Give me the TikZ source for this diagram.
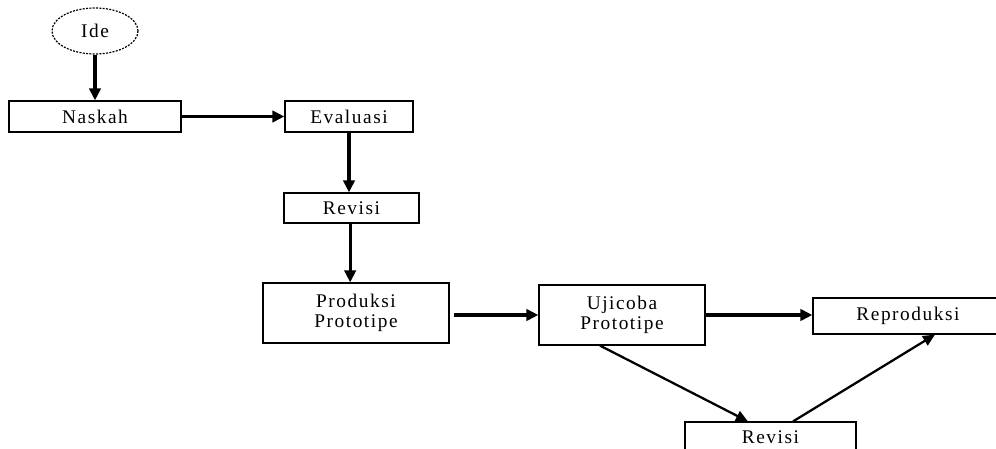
\documentclass[tikz,border=0pt]{standalone}
\usepackage{fontspec}
\setmainfont{Liberation Serif}[LetterSpace=8]
\usetikzlibrary{arrows.meta}
\usetikzlibrary{shapes.geometric}
\tikzset{
    stepbox/.style={draw, line width=0.9pt, inner sep=1pt, align=center, font=\fontsize{14.5}{14.5}\selectfont},
    flow/.style={-{Triangle[length=9pt, width=8.5pt]}, line width=2.3pt},
    slant/.style={-{Triangle[length=9pt, width=8pt]}, line width=1.7pt}
}
\begin{document}
\begin{tikzpicture}[x=0.75pt, y=-0.75pt]
	% page frame
	\useasboundingbox (0,0) rectangle (996,449);
	% start
	\node[stepbox, ellipse, dashed, dash pattern=on 1.5pt off 1pt, minimum width=64.5pt, minimum height=34.5pt] (ide) at (95,31) {Ide};
	% first row
	\node[stepbox, minimum width=129pt, minimum height=23.25pt] (naskah) at (95,116.5) {Naskah};
	\node[stepbox, minimum width=96pt, minimum height=23.25pt] (evaluasi) at (349,116.5) {Evaluasi};
	% middle column
	\node[stepbox, minimum width=101.25pt, minimum height=22.5pt] (revisi) at (351.5,208) {Revisi};
	\node[stepbox, minimum width=139.5pt, minimum height=45pt] (produksi) at (356,313) {Produksi\\Prototipe};
	% last row
	\node[stepbox, minimum width=124.5pt, minimum height=45pt] (ujicoba) at (622,315) {Ujicoba\\Prototipe};
	\node[stepbox, minimum width=142.5pt, minimum height=27pt] (reproduksi) at (908,316) {Reproduksi};
	\node[stepbox, minimum width=128.25pt, minimum height=23.25pt] (revisib) at (770.5,437.5) {Revisi};

	% arrows
	\draw[flow] (ide) -- (naskah);
	\draw[flow] (naskah) -- (evaluasi);
	\draw[flow] (evaluasi.south) -- (evaluasi.south |- revisi.north);
	\draw[flow] ([xshift=-1pt]revisi.south) -- ([xshift=-1pt]revisi.south |- produksi.north);
	\draw[flow] ([xshift=3pt]produksi.east |- ujicoba.west) -- (ujicoba.west);
	\draw[flow] (ujicoba.east) -- (ujicoba.east -| reproduksi.west);
	\draw[slant] ([xshift=-16.5pt]ujicoba.south) -- ([xshift=-16.9pt]revisib.north);
	\draw[slant] ([xshift=16.9pt]revisib.north) -- ([xshift=20.25pt]reproduksi.south);
\end{tikzpicture}
\end{document}
